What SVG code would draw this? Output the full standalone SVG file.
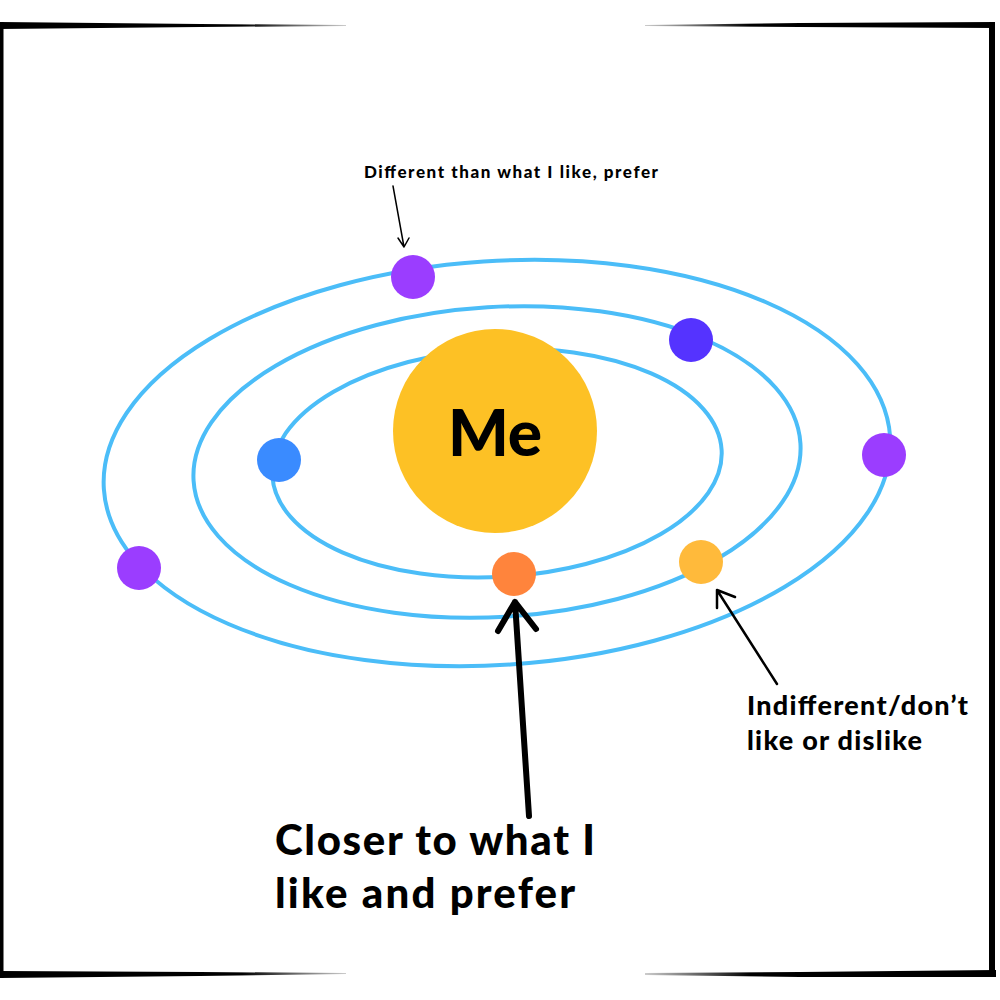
<svg xmlns="http://www.w3.org/2000/svg" width="1000" height="1000" viewBox="0 0 1000 1000">
  <style>
    .orbit { fill: none; stroke: #4BBDF8; stroke-width: 4; }
    .lbl { font-family: "Lato", "Liberation Sans", sans-serif; font-weight: 900; fill: #000; }
    .arrow { fill: none; stroke: #000; stroke-linecap: round; stroke-linejoin: round; }
  </style>
  <defs>
    <linearGradient id="fadeR" x1="0" y1="0" x2="1" y2="0">
      <stop offset="0" stop-color="#000"/>
      <stop offset="0.7" stop-color="#000"/>
      <stop offset="1" stop-color="#000" stop-opacity="0.2"/>
    </linearGradient>
    <linearGradient id="fadeL" x1="1" y1="0" x2="0" y2="0">
      <stop offset="0" stop-color="#000"/>
      <stop offset="0.7" stop-color="#000"/>
      <stop offset="1" stop-color="#000" stop-opacity="0.2"/>
    </linearGradient>
  </defs>
  <rect width="1000" height="1000" fill="#fff"/>

  <g id="frame">
    <polygon points="0,22 200,24 346,25 346,26 200,27 0,29" fill="url(#fadeR)"/>
    <polygon points="995,22 800,23 645,25 645,26 800,27 995,28" fill="url(#fadeL)"/>
    <polygon points="0,971 200,972 346,973 346,974 200,976 0,978" fill="url(#fadeR)"/>
    <polygon points="996,970 800,972 645,973 645,975 800,977 996,977" fill="url(#fadeL)"/>
    <rect x="0" y="22" width="3.5" height="956" fill="#000"/>
    <rect x="989" y="22" width="6" height="955" fill="#000"/>
  </g>

  <g id="orbits">
    <ellipse id="orbit-outer" class="orbit" cx="497" cy="463" rx="394" ry="202" transform="rotate(-3.8 497 463)"/>
    <ellipse id="orbit-middle" class="orbit" cx="497" cy="462" rx="304" ry="155" transform="rotate(-3.5 497 462)"/>
    <ellipse id="orbit-inner" class="orbit" cx="497" cy="463" rx="225" ry="114" transform="rotate(-3.3 497 463)"/>
  </g>

  <g id="me">
    <circle cx="495" cy="431" r="102" fill="#FDC125"/>
    <text class="lbl" x="495" y="456" font-size="64" text-anchor="middle">Me</text>
  </g>

  <g id="planets">
    <circle id="p-top" cx="413" cy="277" r="22" fill="#9B3DFF"/>
    <circle id="p-violet" cx="691" cy="340" r="22" fill="#5533FF"/>
    <circle id="p-right" cx="884" cy="455" r="22" fill="#9B3DFF"/>
    <circle id="p-left" cx="139" cy="568" r="22" fill="#9B3DFF"/>
    <circle id="p-blue" cx="279" cy="460" r="22" fill="#3A8BFF"/>
    <circle id="p-orange" cx="514" cy="574" r="22" fill="#FF843C"/>
    <circle id="p-yellow" cx="701" cy="562" r="22" fill="#FFBA3B"/>
  </g>

  <g id="connectors">
    <path class="arrow" stroke-width="1.5" d="M393,186 L404,247 M398,238 L404,247 L409,238"/>
    <path class="arrow" stroke-width="2.5" d="M777,684 L717,590 M717,608 L717,590 L735,597"/>
    <path class="arrow" stroke-width="6" d="M529,816 L515,602 M498,631 L515,602 L536,629"/>
  </g>

  <g id="labels">
    <text class="lbl" x="364" y="178" font-size="17" textLength="294">Different than what I like, prefer</text>
    <text class="lbl" x="747" y="715" font-size="27" textLength="221">Indifferent/don’t</text>
    <text class="lbl" x="747" y="750" font-size="27" textLength="175">like or dislike</text>
    <text class="lbl" x="275" y="855" font-size="42" textLength="320">Closer to what I</text>
    <text class="lbl" x="275" y="908" font-size="42" textLength="300">like and prefer</text>
  </g>
</svg>
